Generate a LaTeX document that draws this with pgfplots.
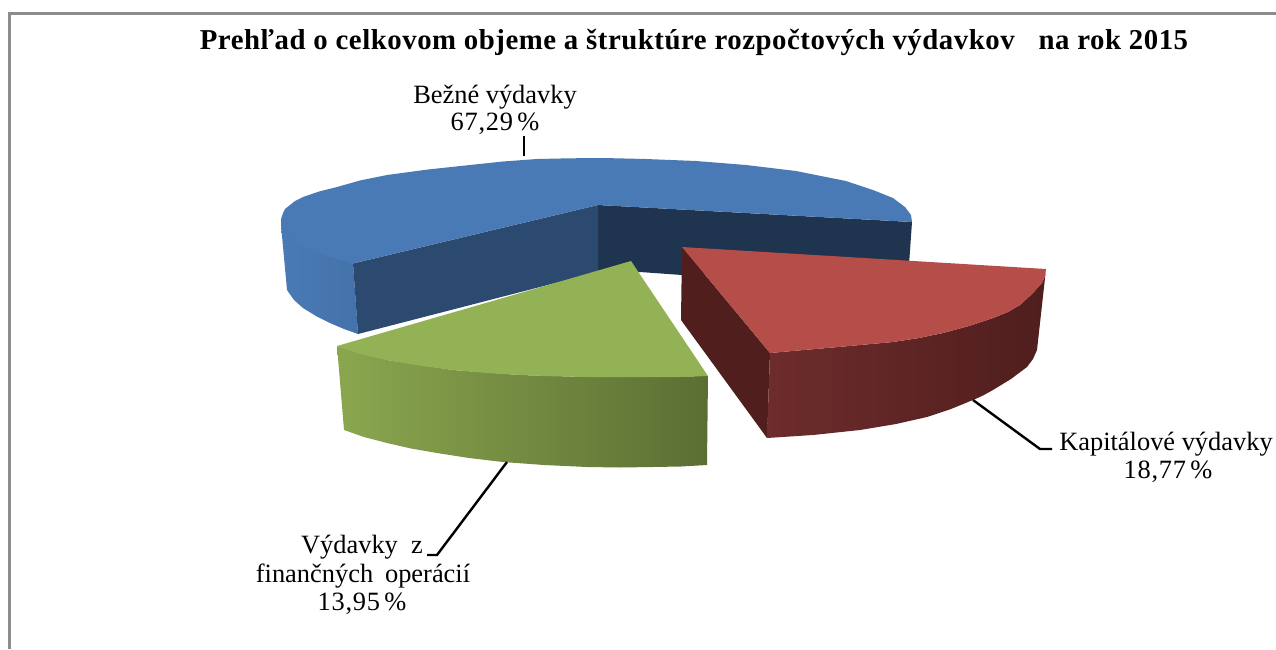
\documentclass[border=0pt]{standalone}
\usepackage{pgfplots}
\pgfplotsset{compat=1.18}
\usepackage{fontspec}
\setmainfont{Liberation Serif}
\definecolor{frame}{HTML}{8C8C8C}
\definecolor{bluetop}{HTML}{4A7AB5}
\definecolor{blueside}{HTML}{4472AA}
\definecolor{bluedark}{HTML}{2C4A6F}
\definecolor{navy}{HTML}{1F344F}
\definecolor{redtop}{HTML}{B54D48}
\definecolor{redsideA}{HTML}{6E2C2C}
\definecolor{redsideB}{HTML}{4F1E1D}
\definecolor{greentop}{HTML}{93B255}
\definecolor{greensideA}{HTML}{8AA74F}
\definecolor{greensideB}{HTML}{5C6E33}
\begin{document}
\begin{tikzpicture}
\begin{axis}[
  scale only axis, width=638pt, height=324.5pt,
  xmin=0, xmax=1276, ymin=0, ymax=649, y dir=reverse,
  hide axis, clip=true,
  every axis plot/.append style={no marks, line join=miter},
]
% page extent
\addplot[draw=none] coordinates {(0,0) (1276,649)};
% frame
\addplot[frame, line width=1.5pt] coordinates {(9.5,649) (9.5,13.5) (1276,13.5)};
% navy inner wall of blue slice
\addplot[fill=navy, draw=none] coordinates {(598,205) (912,222) (909,265) (682,275) (640,272) (598,272)} -- cycle;
% blue outer wall
\addplot[left color=bluetop, right color=blueside, draw=none] coordinates {(281,225) (287,290) (294,300) (303,308) (316,316) (330,323) (344,329) (358,334) (353,263)} -- cycle;
% blue dark wall
\addplot[fill=bluedark, draw=none] coordinates {(353,263.5) (598,205) (598,272) (358,334)} -- cycle;
% blue top
\addplot[fill=bluetop, draw=none] coordinates {(598,205) (912,222) (911,215) (905,207) (893,198) (873,190) (846,181) (796,171) (746,165) (696,161) (646,159) (603,158) (570,158.3) (537,159) (503,161.5) (470,165) (428,169.5) (387,175) (360,180.5) (337,187) (319,191.5) (303,197) (295,201) (290,205) (285,209) (283,213) (281,219) (281,225) (284,232) (290,238) (296,243) (303,247) (316,252.5) (330,257) (353,263.5)} -- cycle;
% green wall
\addplot[left color=greensideA, right color=greensideB, draw=none] coordinates {(337,346) (344,430) (364,437) (387,443) (411,448.5) (437,453) (469,458) (503,462) (544,465) (587,467) (620,467.5) (653,467) (681,466.5) (707,465) (708,376) (653,377) (587,377) (520,375) (453,370) (387,360)} -- cycle;
% green top
\addplot[fill=greentop, draw=none] coordinates {(631,261) (337,346) (360,354) (387,360) (419,365.5) (453,370) (487,373) (520,375) (553,376.3) (587,377) (620,377.2) (653,377) (681,377) (708,376)} -- cycle;
% red side wall
\addplot[fill=redsideB, draw=none] coordinates {(682,247) (770,353) (767,438) (681,320)} -- cycle;
% red outer wall
\addplot[left color=redsideA, middle color=redsideB, right color=redsideB, draw=none] coordinates {(770,353) (767,438) (813,435) (860,430) (896,424) (927,417) (951,409) (973,400) (983,395.5) (993,390) (1011,379) (1027,367) (1033,359) (1037,350) (1046,269) (1045,276) (1042,283) (1032,294) (1020,305) (1008,312) (993,318) (969,326) (943,333) (919,338) (893,342) (860,345) (827,348) (798,350.5)} -- cycle;
% red top
\addplot[fill=redtop, draw=none] coordinates {(682,247) (1046,269) (1045,276) (1042,283) (1032,294) (1020,305) (1008,312) (993,318) (969,326) (943,333) (919,338) (893,342) (860,345) (827,348) (798,350.5) (770,353)} -- cycle;
% leader lines
\addplot[black, line width=1.2pt] coordinates {(524,136) (524,156)};
\addplot[black, line width=1.2pt] coordinates {(973,400) (1040,449) (1052,449)};
\addplot[black, line width=1.2pt] coordinates {(507,462) (437,555) (427,555)};
% texts
\node[anchor=base, font=\fontsize{14.4}{15}\selectfont\bfseries\addfontfeature{LetterSpace=1.9}, inner sep=0pt] at (axis cs:694,49) {Prehľad o celkovom objeme a štruktúre rozpočtových výdavkov\hspace{0.56em} na rok 2015};
\node[anchor=base, font=\fontsize{13.2}{15}\selectfont, inner sep=0pt] at (axis cs:495,103) {Bežné výdavky};
\node[anchor=base, font=\fontsize{13.2}{15}\selectfont\addfontfeature{LetterSpace=3}, inner sep=0pt] at (axis cs:495,130) {67,29\,\%};
\node[anchor=base, font=\fontsize{13.2}{15}\selectfont, inner sep=0pt] at (axis cs:1166,450) {Kapitálové výdavky};
\node[anchor=base, font=\fontsize{13.2}{15}\selectfont\addfontfeature{LetterSpace=3}, inner sep=0pt] at (axis cs:1168,478) {18,77\,\%};
\node[anchor=base, font=\fontsize{13.2}{15}\selectfont, inner sep=0pt] at (axis cs:362,553) {Výdavky\hspace{0.5em}z};
\node[anchor=base, font=\fontsize{13.2}{15}\selectfont, inner sep=0pt] at (axis cs:363,582) {finančných\hspace{0.45em}operácií};
\node[anchor=base, font=\fontsize{13.2}{15}\selectfont\addfontfeature{LetterSpace=3}, inner sep=0pt] at (axis cs:362,610) {13,95\,\%};
\end{axis}
\end{tikzpicture}
\end{document}
